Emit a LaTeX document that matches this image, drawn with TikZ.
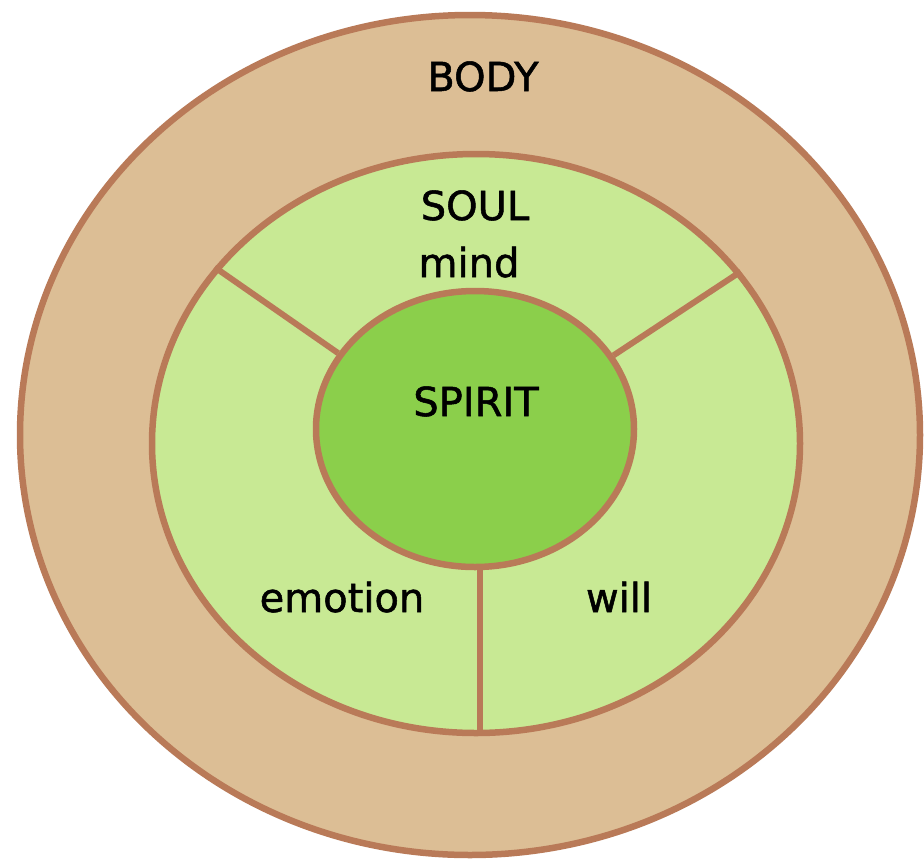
\documentclass[tikz,border=0pt]{standalone}
\usepackage{fontspec}
\setmainfont{DejaVu Sans}[BoldFont={DejaVu Sans}, BoldFeatures={FakeBold=1.3}]
\usetikzlibrary{shapes.geometric}
\definecolor{tan}{HTML}{DCBE95}
\definecolor{edge}{HTML}{B97A58}
\definecolor{lightgrn}{HTML}{C8E994}
\definecolor{darkgrn}{HTML}{8BCF4B}
\tikzset{
  ring/.style={ellipse, draw=edge, line width=6.5pt, inner sep=0pt},
  spoke/.style={draw=edge, line width=6pt},
  lbl/.style={anchor=base, inner sep=0pt, text=black, font=\fontsize{40}{48}\selectfont\bfseries}
}
\begin{document}
\begin{tikzpicture}[x=1pt,y=-1pt]
\useasboundingbox (0,0) rectangle (924,863);
\fill[white] (0,0) rectangle (924,863);
\node[ring, fill=tan, minimum width=900pt, minimum height=840pt] (body) at (470,435) {};
\node[ring, fill=lightgrn, minimum width=648pt, minimum height=579pt] (soul) at (476,443.5) {};
\node[ring, fill=darkgrn, minimum width=318pt, minimum height=276pt] (spirit) at (475,429) {};
\coordinate (vx) at (480,0);
\draw[spoke] (spirit.151) -- (soul.146);
\draw[spoke] (spirit.28) -- (soul.33);
\draw[spoke] (spirit.south -| vx) -- (soul.south -| vx);
\node[lbl] (bodylbl) at (483,91) {BODY};
\node[lbl] (soullbl) at (475,220) {SOUL};
\node[lbl] (mindlbl) at (469,277) {mind};
\node[lbl] (spiritlbl) at (476,416) {SPIRIT};
\node[lbl] (emotionlbl) at (342,612) {emotion};
\node[lbl] (willlbl) at (619,612) {will};
\end{tikzpicture}
\end{document}
